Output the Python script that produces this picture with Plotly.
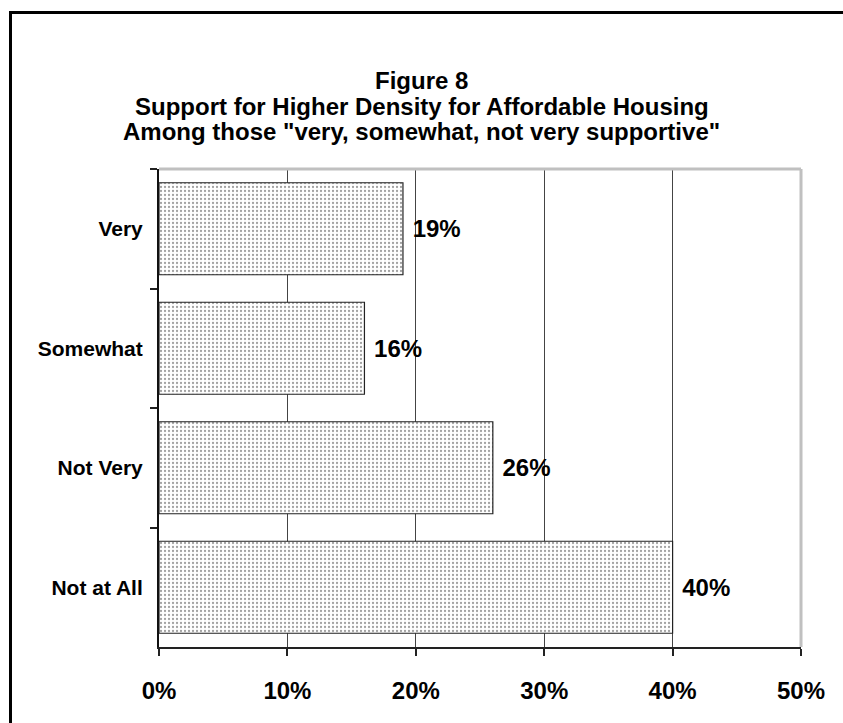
import plotly.graph_objects as go

# Survey results
categories = ["Very", "Somewhat", "Not Very", "Not at All"]
shares = [19, 16, 26, 40]
tick_values = [0, 10, 20, 30, 40, 50]
tick_labels = ["0%", "10%", "20%", "30%", "40%", "50%"]

title_lines = [
    "Figure 8",
    "Support for Higher Density for Affordable Housing",
    'Among those "very, somewhat, not very supportive"',
]

FONT = "Liberation Sans, Arial, sans-serif"

# plot area in pixels (used to place the title lines and frame)
PLOT_LEFT, PLOT_RIGHT, PLOT_TOP, PLOT_BOTTOM = 159, 801, 169, 647
W, H = 843, 723


def py_to_paper(py):
    return (PLOT_BOTTOM - py) / (PLOT_BOTTOM - PLOT_TOP)


def px_to_paper(px):
    return (px - PLOT_LEFT) / (PLOT_RIGHT - PLOT_LEFT)


fig = go.Figure(
    go.Bar(
        x=shares,
        y=categories,
        orientation="h",
        text=[f"{v}%" for v in shares],
        texttemplate=" %{text}",
        textposition="outside",
        textfont=dict(family=FONT, size=24, color="black", weight="bold"),
        cliponaxis=False,
        marker=dict(
            color="white",
            line=dict(color="#222222", width=1.2),
            pattern=dict(shape=".", fgcolor="#444444", bgcolor="white",
                         size=4, solidity=0.25),
        ),
        hoverinfo="skip",
    )
)

title_y = [80, 106, 132]
annotations = [
    dict(text=line, xref="paper", yref="paper",
         x=px_to_paper(W / 2), y=py_to_paper(yy),
         xanchor="center", yanchor="middle", showarrow=False,
         font=dict(family=FONT, size=24, color="black", weight="bold"))
    for line, yy in zip(title_lines, title_y)
]

fig.update_layout(
    width=W,
    height=H,
    margin=dict(l=PLOT_LEFT, r=W - PLOT_RIGHT, t=PLOT_TOP, b=H - PLOT_BOTTOM),
    paper_bgcolor="white",
    plot_bgcolor="white",
    bargap=0.23,
    showlegend=False,
    annotations=annotations,
    xaxis=dict(
        range=[0, 50],
        tickvals=tick_values,
        ticktext=tick_labels,
        showgrid=True,
        gridcolor="#444444",
        gridwidth=1,
        zeroline=False,
        showline=True,
        linecolor="#222222",
        linewidth=2,
        ticks="outside",
        ticklen=7,
        tickwidth=1.5,
        tickcolor="#222222",
        ticklabelstandoff=14,
        tickfont=dict(family=FONT, size=24, color="black", weight="bold"),
        fixedrange=True,
    ),
    yaxis=dict(
        categoryorder="array",
        categoryarray=categories,
        autorange="reversed",
        showgrid=False,
        zeroline=False,
        showline=True,
        linecolor="#111111",
        linewidth=2,
        ticks="outside",
        tickson="boundaries",
        ticklen=7,
        tickwidth=1.5,
        tickcolor="#222222",
        ticklabelstandoff=10,
        tickfont=dict(family=FONT, size=21, color="black", weight="bold"),
        fixedrange=True,
    ),
    shapes=[
        # light grey plot-area border on top and right
        dict(type="line", xref="paper", yref="paper", x0=0, x1=1, y0=1, y1=1,
             line=dict(color="#c0c0c0", width=3), layer="above"),
        dict(type="line", xref="paper", yref="paper", x0=1, x1=1, y0=0, y1=1,
             line=dict(color="#c0c0c0", width=3), layer="above"),
        # outer chart frame
        dict(type="rect", xref="paper", yref="paper",
             x0=px_to_paper(10.5), x1=1.3, y0=-0.3, y1=py_to_paper(12.5),
             line=dict(color="black", width=3), layer="below"),
    ],
)

fig.write_html("out.html")
